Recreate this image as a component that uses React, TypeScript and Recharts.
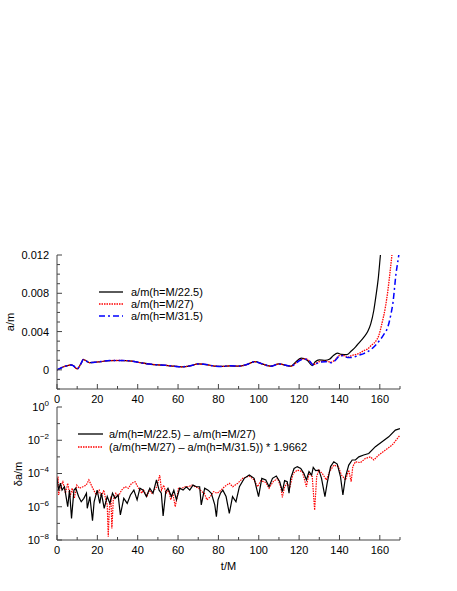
import React from 'react';
import { LineChart, Line, XAxis, YAxis } from 'recharts';

const FONT = '"Liberation Sans", Arial, Helvetica, sans-serif';
const FRAME = '#444';

// ---------- tick values ----------
const X_TICKS = [0, 10, 20, 30, 40, 50, 60, 70, 80, 90, 100, 110, 120, 130, 140, 150, 160, 170];
const X_MAJOR = [0, 20, 40, 60, 80, 100, 120, 140, 160];
const Y_TOP_TICKS = [-0.002, -0.001, 0, 0.001, 0.002, 0.003, 0.004, 0.005, 0.006, 0.007, 0.008, 0.009, 0.01, 0.011, 0.012];
const Y_TOP_MAJOR = [0, 0.004, 0.008, 0.012];
const Y_LOG_TICKS = [1e-8, 1e-7, 1e-6, 1e-5, 1e-4, 1e-3, 1e-2, 1e-1, 1];
const Y_LOG_MAJOR = [1e-8, 1e-6, 1e-4, 1e-2, 1];

// ---------- top panel: a/m ----------
const tBlackTop = [0, 2, 4, 6, 7, 8, 10, 12, 13, 14, 16, 18, 20, 23, 26, 30, 34, 38, 42, 46, 50, 54, 58, 62, 66, 70, 74, 78, 82, 86, 90, 94, 98, 102, 106, 110, 114, 116, 118, 121, 124, 126.5, 128, 130, 133, 135, 137, 139, 141, 143.7, 146, 148, 150, 152, 154, 155.5, 157, 158, 159.2, 160.3, 161];
const aBlackTop = [0, 0.0002, 0.00038, 0.00048, 0.00052, 0.00045, 0.0001, 0.0007, 0.00108, 0.001, 0.00076, 0.00078, 0.00082, 0.0009, 0.00097, 0.00098, 0.00097, 0.00088, 0.00072, 0.0006, 0.00052, 0.00047, 0.00038, 0.00032, 0.00042, 0.00062, 0.00055, 0.0004, 0.00036, 0.00042, 0.00038, 0.00055, 0.00085, 0.0006, 0.00038, 0.00062, 0.00045, 0.00038, 0.00075, 0.00122, 0.001, 0.00045, 0.00085, 0.00105, 0.001, 0.0011, 0.0015, 0.00174, 0.00162, 0.0016, 0.002, 0.0024, 0.0029, 0.0034, 0.004, 0.0048, 0.0062, 0.0076, 0.0095, 0.012, 0.0135];

const tRedTop = [0, 2, 4, 6, 7, 8, 10, 12, 13, 14, 16, 18, 20, 23, 26, 30, 34, 38, 42, 46, 50, 54, 58, 62, 66, 70, 74, 78, 82, 86, 90, 94, 98, 102, 106, 110, 114, 116, 118, 121, 123, 125, 127, 130, 133, 136, 138, 140, 142, 144, 146, 148, 150, 152, 154, 156, 158, 159.5, 161, 162.8, 164, 165, 166, 166.5];
const aRedTop = [0, 0.0002, 0.00038, 0.00048, 0.00052, 0.00045, 0.0001, 0.0007, 0.00108, 0.001, 0.00076, 0.00078, 0.00082, 0.0009, 0.00097, 0.00098, 0.00097, 0.00088, 0.00072, 0.0006, 0.00052, 0.00047, 0.00038, 0.00032, 0.00042, 0.00062, 0.00055, 0.0004, 0.00036, 0.00042, 0.00038, 0.00055, 0.00085, 0.0006, 0.00038, 0.00062, 0.00045, 0.00038, 0.00065, 0.0011, 0.00115, 0.00095, 0.00055, 0.00085, 0.0009, 0.0008, 0.0011, 0.0015, 0.0015, 0.0013, 0.0015, 0.0016, 0.00175, 0.002, 0.0022, 0.0026, 0.003, 0.0036, 0.0048, 0.0066, 0.0083, 0.0101, 0.012, 0.013];

const tBlueTop = [0, 2, 4, 6, 7, 8, 10, 12, 13, 14, 16, 18, 20, 23, 26, 30, 34, 38, 42, 46, 50, 54, 58, 62, 66, 70, 74, 78, 82, 86, 90, 94, 98, 102, 106, 110, 114, 116, 118, 121, 123, 125, 127, 130, 133, 136, 138, 140, 142, 144, 146, 148, 150, 152, 154, 156, 158, 160, 162, 164, 165.5, 166.5, 168, 169.4, 170];
const aBlueTop = [0, 0.0002, 0.00038, 0.00048, 0.00052, 0.00045, 0.0001, 0.0007, 0.00108, 0.001, 0.00076, 0.00078, 0.00082, 0.0009, 0.00097, 0.00098, 0.00097, 0.00088, 0.00072, 0.0006, 0.00052, 0.00047, 0.00038, 0.00032, 0.00042, 0.00062, 0.00055, 0.0004, 0.00036, 0.00042, 0.00038, 0.00055, 0.00085, 0.0006, 0.00038, 0.00062, 0.00045, 0.00038, 0.00062, 0.00105, 0.00112, 0.00095, 0.0005, 0.00078, 0.00085, 0.00075, 0.001, 0.00145, 0.0015, 0.0013, 0.0013, 0.0014, 0.00155, 0.0017, 0.0019, 0.0022, 0.0026, 0.0031, 0.0037, 0.0045, 0.0058, 0.007, 0.01, 0.012, 0.013];

// ---------- bottom panel: differences ----------
const tBlackDiff = [0, 0.8, 1.7, 2.5, 3.7, 4.5, 5.3, 6.2, 7.2, 8.4, 9.3, 10.7, 12, 13.3, 14.6, 15, 16.3, 17.6, 18.4, 19.9, 21.2, 22, 23.4, 24.9, 26.2, 27.5, 28.8, 30.3, 31.4, 33.1, 34.8, 36.4, 38.1, 39.7, 41.1, 42.7, 44.3, 46, 47.6, 49.3, 50.6, 51.7, 52.6, 53.9, 55, 56.7, 57.9, 59.2, 60.8, 62.5, 64.1, 65.8, 67.4, 69.1, 70.7, 71.5, 73.2, 74.9, 76.5, 78.2, 79, 79.8, 81, 82.2, 83.8, 85.4, 87, 88.7, 90.4, 92.8, 95.3, 97.7, 99.9, 101.5, 103.5, 105.1, 106.8, 108.7, 110.4, 111.7, 112.8, 114.1, 115, 115.8, 117.5, 119.1, 120.8, 122.4, 123.6, 124.9, 126.2, 127, 128.2, 129.8, 131.1, 132.8, 133.9, 135.6, 137.2, 138.9, 140.5, 141.7, 143, 144.6, 146.3, 147.9, 149.6, 152, 154.5, 157.8, 161.1, 164.4, 167.7, 170];
const dBlack = [5.1e-5, 1.0e-5, 2.6e-5, 1.0e-5, 1.6e-5, 4.1e-6, 1.0e-6, 1.0e-5, 2.0e-7, 1.0e-5, 1.3e-5, 4.1e-6, 2.0e-6, 3.2e-6, 6.5e-6, 8.1e-7, 4.1e-6, 1.45e-7, 2.0e-6, 1.0e-5, 1.6e-6, 6.5e-6, 8.1e-7, 4.1e-6, 1.6e-6, 6.5e-6, 3.2e-6, 5.1e-6, 3.2e-7, 3.2e-6, 1.6e-6, 5.1e-6, 1.0e-5, 2.6e-6, 1.3e-5, 1.0e-5, 4.1e-6, 1.3e-5, 6.5e-6, 4.1e-5, 1.0e-5, 6.5e-6, 2.8e-7, 8.1e-6, 1.3e-5, 4.1e-6, 1.0e-5, 2.6e-6, 1.3e-5, 1.0e-5, 1.6e-5, 1.0e-5, 2.0e-5, 1.6e-5, 1.6e-5, 1.3e-6, 1.3e-5, 1.0e-5, 6.5e-6, 1.3e-6, 2.5e-7, 2.6e-6, 6.5e-6, 1.0e-5, 4.1e-6, 4.0e-7, 4.1e-6, 2.0e-6, 1.6e-5, 5.1e-5, 8.1e-5, 5.1e-5, 4.1e-6, 5.1e-5, 4.1e-5, 1.6e-5, 5.1e-5, 7.1e-5, 3.2e-5, 8.1e-6, 3.7e-5, 3.2e-5, 6.5e-6, 5.1e-5, 2.0e-4, 2.6e-4, 2.0e-4, 1.0e-4, 4.1e-5, 1.3e-4, 8.1e-5, 2.3e-4, 1.5e-4, 1.6e-4, 5.1e-5, 4.1e-6, 2.6e-5, 2.6e-4, 5.1e-4, 3.7e-4, 6.5e-5, 5.1e-6, 6.5e-5, 3.2e-4, 6.5e-4, 6.5e-4, 1.0e-3, 1.3e-3, 1.6e-3, 4.1e-3, 8.1e-3, 1.6e-2, 4.1e-2, 5.0e-2];

const tRedDiff = [0, 0.5, 0.8, 1.7, 2.9, 4.2, 5.3, 6.5, 7.5, 8.6, 9.8, 11.1, 12.8, 14.5, 15.8, 17, 18.2, 19.5, 20.9, 22, 23.2, 24.2, 24.9, 25.4, 25.9, 26.7, 27.2, 27.9, 29.2, 30.4, 32, 33.7, 35.4, 37, 38.7, 40.4, 42, 42.9, 44.6, 45.7, 47.1, 48.2, 49.5, 50.9, 51.8, 52.9, 54, 55.3, 56.4, 57.4, 58.6, 59.4, 60.2, 61.9, 63.5, 65.2, 66.8, 68.5, 70.2, 71.8, 73, 74.3, 76, 77.6, 79.3, 80.5, 83, 85.4, 87.1, 89.6, 92, 95.3, 97.7, 99.4, 101, 103.5, 105.1, 107.1, 109.3, 110.9, 111.7, 112.8, 114.1, 115.3, 117, 119.1, 121.6, 123.6, 124.9, 126.5, 127.7, 128.7, 129.8, 131.5, 133.5, 135.1, 137.2, 139.4, 141, 143, 144.6, 145.8, 146.6, 147.9, 150.4, 152.9, 155.4, 157, 159.5, 162.8, 166.1, 170];
const dRed = [1.6e-5, 6.5e-5, 5.1e-6, 1.6e-5, 3.2e-5, 6.5e-6, 2.6e-5, 4.1e-6, 1.3e-5, 3.2e-6, 2.0e-5, 1.3e-5, 1.6e-5, 2.0e-5, 4.1e-5, 2.0e-5, 1.0e-5, 5.1e-6, 1.0e-5, 4.1e-6, 1.0e-5, 2.6e-6, 1.3e-6, 1.6e-8, 6.3e-7, 4.1e-6, 5.0e-8, 2.6e-6, 6.5e-6, 4.1e-6, 1.0e-5, 1.6e-5, 1.3e-5, 2.6e-5, 3.2e-5, 1.3e-5, 6.5e-6, 1.0e-5, 4.1e-6, 1.0e-5, 6.5e-6, 1.0e-5, 1.6e-5, 8.1e-5, 1.0e-5, 2.0e-5, 6.5e-6, 1.0e-5, 2.6e-6, 6.5e-6, 1.0e-6, 3.2e-6, 1.3e-5, 1.3e-5, 1.6e-5, 1.6e-5, 2.0e-5, 1.6e-5, 1.3e-5, 8.1e-6, 6.5e-6, 2.6e-6, 4.1e-6, 8.1e-6, 6.5e-6, 8.1e-6, 1.6e-5, 2.6e-5, 1.6e-5, 2.6e-5, 5.1e-5, 7.1e-5, 4.1e-5, 1.6e-5, 3.7e-5, 2.9e-5, 1.3e-5, 3.2e-5, 5.1e-5, 1.6e-5, 3.7e-6, 1.6e-5, 2.6e-5, 1.3e-5, 1.0e-4, 1.6e-4, 1.3e-4, 1.6e-5, 1.0e-4, 6.5e-5, 6.3e-7, 6.5e-5, 1.6e-4, 1.0e-4, 4.1e-5, 1.3e-4, 3.2e-4, 2.6e-4, 8.1e-5, 4.1e-5, 1.6e-4, 3.2e-5, 2.6e-4, 5.1e-4, 4.5e-4, 8.1e-4, 1.0e-3, 6.5e-4, 1.3e-3, 2.6e-3, 5.1e-3, 2.0e-2];

const toRows = (t: number[], v: number[]) => t.map((tt, i) => ({ t: tt, v: v[i] }));

const blackTopRows = toRows(tBlackTop, aBlackTop);
const redTopRows = toRows(tRedTop, aRedTop);
const blueTopRows = toRows(tBlueTop, aBlueTop);
const blackDiffRows = toRows(tBlackDiff, dBlack);
const redDiffRows = toRows(tRedDiff, dRed);

const RED_DASH = '1.5 1';
const BLUE_DASH = '6 3 2 3';

const topLegend = [
  { label: 'a/m(h=M/22.5)', color: '#000000', dash: undefined as string | undefined },
  { label: 'a/m(h=M/27)', color: '#ff0000', dash: RED_DASH },
  { label: 'a/m(h=M/31.5)', color: '#0000ff', dash: BLUE_DASH },
];
const bottomLegend = [
  { label: 'a/m(h=M/22.5) \u2013 a/m(h=M/27)', color: '#000000', dash: undefined as string | undefined },
  { label: '(a/m(h=M/27) \u2013 a/m(h=M/31.5)) * 1.9662', color: '#ff0000', dash: RED_DASH },
];

const M = 6; // tick margin for x labels
const MY = 8; // tick margin for y labels

const xTick = (labels: boolean, dir: number) => (props: any) => {
  const { x, y, payload } = props;
  const v = payload.value;
  const major = X_MAJOR.includes(v);
  const axisY = y - dir * M;
  const len = major ? 5 : 3;
  return (
    <g>
      <line x1={x} x2={x} y1={axisY} y2={axisY - dir * len} stroke={FRAME} strokeWidth={1} />
      {labels && major ? (
        <text x={x} y={y} dy="0.71em" textAnchor="middle" fontFamily={FONT} fontSize={11} fill="#000">
          {v}
        </text>
      ) : null}
    </g>
  );
};

const yTopTick = (labels: boolean, dir: number) => (props: any) => {
  const { x, y, payload } = props;
  const v = payload.value;
  const major = Y_TOP_MAJOR.includes(v);
  const axisX = x + dir * MY;
  const len = major ? 5 : 3;
  return (
    <g>
      <line x1={axisX} x2={axisX + dir * len} y1={y} y2={y} stroke={FRAME} strokeWidth={1} />
      {labels && major ? (
        <text x={x} y={y} dy="0.36em" textAnchor="end" fontFamily={FONT} fontSize={11} fill="#000">
          {v === 0 ? '0' : v.toFixed(3)}
        </text>
      ) : null}
    </g>
  );
};

const yLogTick = (labels: boolean, dir: number) => (props: any) => {
  const { x, y, payload } = props;
  const v = payload.value;
  const major = Y_LOG_MAJOR.includes(v);
  const axisX = x + dir * MY;
  const len = major ? 5 : 3;
  const e = Math.round(Math.log10(v));
  return (
    <g>
      <line x1={axisX} x2={axisX + dir * len} y1={y} y2={y} stroke={FRAME} strokeWidth={1} />
      {labels && major ? (
        <text x={x} y={y} dy="0.36em" textAnchor="end" fontFamily={FONT} fontSize={11} fill="#000">
          10
          <tspan dy={-5} fontSize={8}>{e === 0 ? '0' : '\u2212' + Math.abs(e)}</tspan>
        </text>
      ) : null}
    </g>
  );
};

const LegendBox = ({ items, left, top, lineW, gap, rowH }: any) => (
  <div style={{ position: 'absolute', left, top, fontFamily: FONT, fontSize: 11, color: '#000' }}>
    {items.map((it: any, i: number) => (
      <div key={i} style={{ display: 'flex', alignItems: 'center', height: rowH, whiteSpace: 'nowrap' }}>
        <svg width={lineW} height={4} style={{ marginRight: gap, overflow: 'visible' }}>
          <line x1={0} x2={lineW} y1={2} y2={2} stroke={it.color} strokeWidth={1.3} strokeDasharray={it.dash} />
        </svg>
        <span>{it.label}</span>
      </div>
    ))}
  </div>
);

export default function App() {
  return (
    <div style={{ position: 'absolute', left: 0, top: 0, width: 457, height: 591, background: '#fff', fontFamily: FONT }}>
      <style>{'svg{overflow:visible}'}</style>
      {/* top panel */}
      <div style={{ position: 'absolute', left: 0, top: 0 }}>
        <LineChart width={457} height={405} margin={{ top: 255, right: 57, bottom: 4, left: 7 }}>
          <XAxis xAxisId="b" dataKey="t" type="number" domain={[0, 170]} allowDataOverflow ticks={X_TICKS} interval={0}
            tickSize={0} tickMargin={M} height={12} stroke={FRAME} tick={xTick(true, 1)} />
          <XAxis xAxisId="t" orientation="top" dataKey="t" type="number" domain={[0, 170]} allowDataOverflow ticks={X_TICKS} interval={0}
            tickSize={0} tickMargin={M} height={0} stroke={FRAME} tick={xTick(false, -1)} />
          <YAxis yAxisId="l" type="number" domain={[-0.002, 0.012]} allowDataOverflow ticks={Y_TOP_TICKS} interval={0}
            tickSize={0} tickMargin={MY} width={50} stroke={FRAME} tick={yTopTick(true, 1)} />
          <YAxis yAxisId="r" orientation="right" type="number" domain={[-0.002, 0.012]} allowDataOverflow ticks={Y_TOP_TICKS} interval={0}
            tickSize={0} tickMargin={MY} width={0} stroke={FRAME} tick={yTopTick(false, -1)} />
          <Line xAxisId="b" yAxisId="l" data={blackTopRows} dataKey="v" type="monotone" stroke="#000000" strokeWidth={1.2}
            dot={false} isAnimationActive={false} />
          <Line xAxisId="b" yAxisId="l" data={redTopRows} dataKey="v" type="monotone" stroke="#ff0000" strokeWidth={1.3}
            strokeDasharray={RED_DASH} dot={false} isAnimationActive={false} />
          <Line xAxisId="b" yAxisId="l" data={blueTopRows} dataKey="v" type="monotone" stroke="#0000ff" strokeWidth={1.5}
            strokeDasharray={BLUE_DASH} dot={false} isAnimationActive={false} />
        </LineChart>
      </div>
      {/* bottom panel */}
      <div style={{ position: 'absolute', left: 0, top: 395 }}>
        <LineChart width={457} height={196} margin={{ top: 12, right: 57, bottom: 11, left: 7 }}>
          <XAxis xAxisId="b" dataKey="t" type="number" domain={[0, 170]} allowDataOverflow ticks={X_TICKS} interval={0}
            tickSize={0} tickMargin={M} height={40} stroke={FRAME} tick={xTick(true, 1)} />
          <XAxis xAxisId="t" orientation="top" dataKey="t" type="number" domain={[0, 170]} allowDataOverflow ticks={X_TICKS} interval={0}
            tickSize={0} tickMargin={M} height={0} stroke={FRAME} tick={xTick(false, -1)} />
          <YAxis yAxisId="l" type="number" scale="log" domain={[1e-8, 1]} allowDataOverflow ticks={Y_LOG_TICKS} interval={0}
            tickSize={0} tickMargin={MY} width={50} stroke={FRAME} tick={yLogTick(true, 1)} />
          <YAxis yAxisId="r" orientation="right" type="number" scale="log" domain={[1e-8, 1]} allowDataOverflow ticks={Y_LOG_TICKS} interval={0}
            tickSize={0} tickMargin={MY} width={0} stroke={FRAME} tick={yLogTick(false, -1)} />
          <Line xAxisId="b" yAxisId="l" data={redDiffRows} dataKey="v" type="linear" stroke="#ff0000" strokeWidth={1.2}
            strokeDasharray={RED_DASH} dot={false} isAnimationActive={false} />
          <Line xAxisId="b" yAxisId="l" data={blackDiffRows} dataKey="v" type="linear" stroke="#000000" strokeWidth={1.2}
            dot={false} isAnimationActive={false} />
        </LineChart>
      </div>
      <LegendBox items={topLegend} left={99} top={286} lineW={24} gap={8} rowH={12} />
      <LegendBox items={bottomLegend} left={78} top={427} lineW={25} gap={6} rowH={13} />
      <div style={{ position: 'absolute', left: 10, top: 322, transform: 'translate(-50%,-50%) rotate(-90deg)', fontSize: 11, whiteSpace: 'nowrap' }}>a/m</div>
      <div style={{ position: 'absolute', left: 18, top: 474, transform: 'translate(-50%,-50%) rotate(-90deg)', fontSize: 11, whiteSpace: 'nowrap' }}>δa/m</div>
      <div style={{ position: 'absolute', left: 228.5, top: 566, transform: 'translate(-50%,-50%)', fontSize: 11, whiteSpace: 'nowrap' }}>t/M</div>
    </div>
  );
}
